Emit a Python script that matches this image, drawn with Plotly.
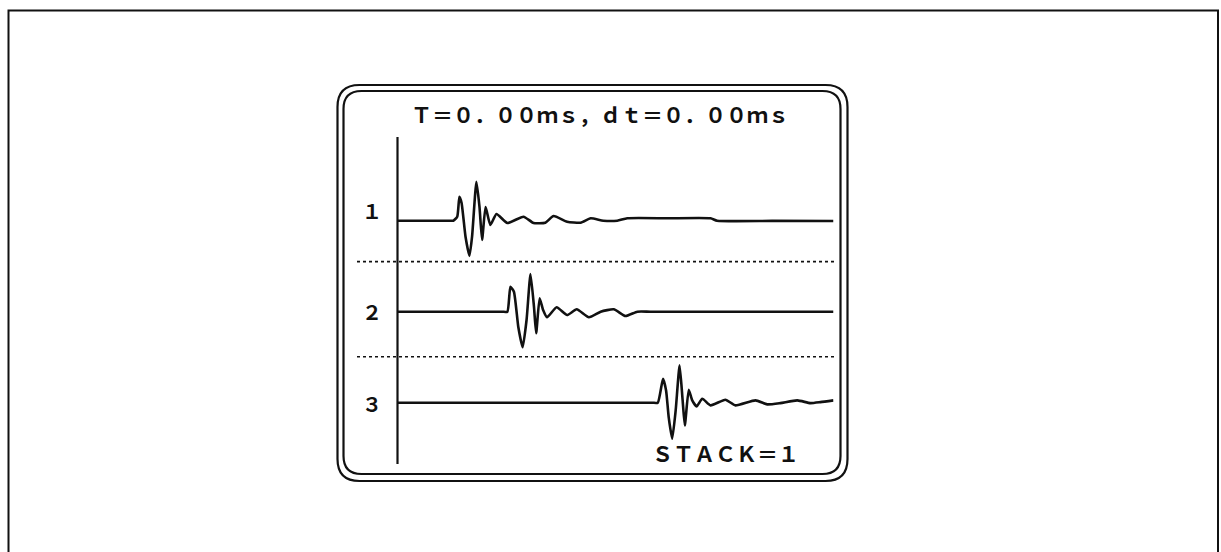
import plotly.graph_objects as go

# ---------------- data (time in ms, amplitude normalised) ----------------
channels = [1, 2, 3]
channel_labels = ["１", "２", "３"]

trace1_t = [0.00, 0.60, 1.20, 1.28, 1.37, 1.42, 1.47, 1.56, 1.65, 1.71, 1.81, 1.88, 1.94, 2.02,
            2.13, 2.27, 2.52, 2.89, 3.12, 3.39, 3.58, 3.89, 4.20, 4.43, 4.72, 5.04,
            5.27, 6.20, 7.18, 7.33, 8.60, 10.00]
trace1_a = [0.000, 0.000, 0.000, 0.000, 0.088, 0.527, 0.389, -0.352, -0.776, -0.352, 0.857, 0.308,
            -0.424, 0.301, -0.095, 0.147, -0.051, 0.088, -0.051, -0.044, 0.103, -0.022,
            -0.044, 0.053, 0.000, 0.000, 0.053, 0.053, 0.053, 0.000, -0.004, -0.007]

trace2_t = [0.00, 1.20, 2.40, 2.52, 2.59, 2.67, 2.77, 2.87, 2.96, 3.05, 3.13, 3.18, 3.26, 3.34,
            3.43, 3.65, 3.89, 4.11, 4.39, 4.66, 4.96, 5.23, 5.50, 5.80, 7.80, 10.00]
trace2_a = [0.000, 0.000, 0.000, 0.000, 0.549, 0.440, -0.330, -0.782, -0.182, 0.829, 0.110, -0.475,
            0.295, 0.037, -0.123, 0.097, -0.073, 0.053, -0.123, 0.000, 0.053, -0.095,
            0.000, 0.000, 0.000, 0.000]

trace3_t = [0.00, 2.00, 4.00, 5.50, 5.85, 5.97, 6.09, 6.16, 6.22, 6.30, 6.38, 6.47, 6.54, 6.59,
            6.68, 6.76, 6.86, 6.99, 7.18, 7.52, 7.75, 8.21, 8.48, 8.78, 9.17, 9.47, 9.70, 10.00]
trace3_a = [0.000, 0.000, 0.000, 0.000, 0.000, 0.000, 0.527, 0.270, -0.316, -0.791, -0.169, 0.820,
            0.051, -0.499, 0.286, 0.051, -0.081, 0.088, -0.059, 0.066, -0.059, 0.051, -0.037,
            -0.009, 0.051, -0.009, 0.013, 0.051]

separators = [1.45, 2.495]
title_text = "Ｔ＝０．００ｍｓ，ｄｔ＝０．００ｍｓ"
stack_text = "ＳＴＡＣＫ＝１"

# ---------------- layout helpers ----------------
W, H = 1221, 552
GAIN = 0.5
FONT = "Noto Sans CJK JP"
INK = "#111111"


def px(x):
    return x / W


def py(y):
    return 1 - y / H


def rounded_path(x0, y0, x1, y1, r):
    pts = [
        ("M", px(x0 + r), py(y0)),
        ("L", px(x1 - r), py(y0)),
        ("Q", px(x1), py(y0), px(x1), py(y0 + r)),
        ("L", px(x1), py(y1 - r)),
        ("Q", px(x1), py(y1), px(x1 - r), py(y1)),
        ("L", px(x0 + r), py(y1)),
        ("Q", px(x0), py(y1), px(x0), py(y1 - r)),
        ("L", px(x0), py(y0 + r)),
        ("Q", px(x0), py(y0), px(x0 + r), py(y0)),
    ]
    s = ""
    for p in pts:
        s += p[0] + " " + " ".join(f"{v:.5f}" for v in p[1:]) + " "
    return s + "Z"


fig = go.Figure()
for ch, t, a in zip(channels, [trace1_t, trace2_t, trace3_t], [trace1_a, trace2_a, trace3_a]):
    fig.add_trace(go.Scatter(
        x=t, y=[ch - GAIN * v for v in a], mode="lines",
        line=dict(color=INK, width=2.6, shape="spline", smoothing=0.5),
        hoverinfo="skip", showlegend=False))

shapes = []
# outer page frame
shapes.append(dict(type="path", xref="paper", yref="paper",
                   path=f"M {px(8.5)} {py(556)} L {px(8.5)} {py(10.5)} L {px(1218)} {py(10.5)} L {px(1218)} {py(556)}",
                   line=dict(color=INK, width=2)))
# panel double rounded border
shapes.append(dict(type="path", xref="paper", yref="paper",
                   path=rounded_path(337.5, 85, 847.5, 481, 22), line=dict(color=INK, width=2.2)))
shapes.append(dict(type="path", xref="paper", yref="paper",
                   path=rounded_path(343.5, 91, 840.5, 474, 18), line=dict(color=INK, width=2.2)))
# vertical axis line
shapes.append(dict(type="line", xref="paper", yref="paper",
                   x0=px(397.5), x1=px(397.5), y0=py(137), y1=py(464),
                   line=dict(color=INK, width=2.2)))
# dotted separators
for s in separators:
    shapes.append(dict(type="line", xref="paper", yref="y",
                       x0=px(357), x1=px(834), y0=s, y1=s,
                       line=dict(color=INK, width=1.6, dash="dot")))

annotations = [
    dict(text=title_text, xref="paper", yref="paper", x=px(600), y=py(114),
         xanchor="center", yanchor="middle", showarrow=False,
         font=dict(family=FONT, size=21, color=INK, weight="bold")),
    dict(text=stack_text, xref="paper", yref="paper", x=px(725.5), y=py(453),
         xanchor="center", yanchor="middle", showarrow=False,
         font=dict(family=FONT, size=21, color=INK, weight="bold")),
]
label_offsets = [-10, 0, 1]
for ch, lab, off in zip(channels, channel_labels, label_offsets):
    annotations.append(dict(text=lab, xref="paper", yref="y", x=px(372), y=ch + off / 91.0,
                            xanchor="center", yanchor="middle", showarrow=False,
                            font=dict(family=FONT, size=20, color=INK, weight="bold")))

fig.update_layout(
    width=W, height=H,
    margin=dict(l=0, r=0, t=0, b=0),
    paper_bgcolor="white", plot_bgcolor="rgba(0,0,0,0)",
    xaxis=dict(domain=[px(397.5), px(833.5)], range=[0, 10], visible=False),
    yaxis=dict(domain=[0, 1], range=[1 + (H - 220.7) / 91.0, 1 - 220.7 / 91.0], visible=False),
    shapes=shapes, annotations=annotations,
)

fig.write_html("out.html", config={"displayModeBar": False, "staticPlot": True},
               post_script="document.body.style.margin='0';")
